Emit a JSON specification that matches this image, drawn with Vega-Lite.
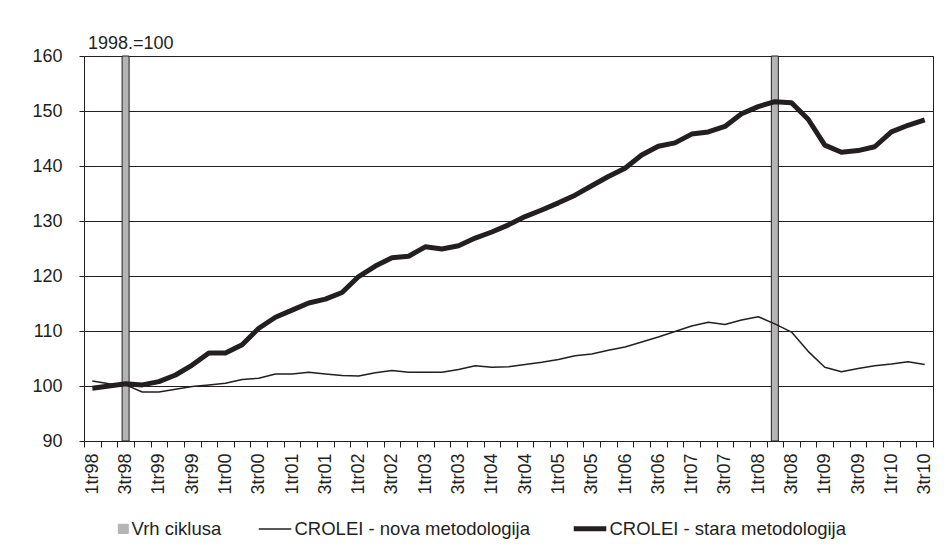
{
  "$schema": "https://vega.github.io/schema/vega-lite/v6.json",
  "width": 849,
  "height": 385,
  "autosize": {"type": "none"},
  "padding": {"left": 84, "top": 56, "right": 13, "bottom": 115},
  "background": "white",
  "title": {"text": "1998.=100", "anchor": "start", "frame": "group", "dx": 4, "offset": -6, "fontSize": 18, "fontWeight": "normal", "font": "Liberation Sans", "color": "#231f20"},
  "data": {"values": [
    {"q": "3tr98", "series": "Vrh ciklusa", "v": 160},
    {"q": "2tr08", "series": "Vrh ciklusa", "v": 160},
    {"q": "1tr98", "series": "CROLEI - nova metodologija", "v": 100.9},
    {"q": "2tr98", "series": "CROLEI - nova metodologija", "v": 100.4},
    {"q": "3tr98", "series": "CROLEI - nova metodologija", "v": 100.2},
    {"q": "4tr98", "series": "CROLEI - nova metodologija", "v": 98.9},
    {"q": "1tr99", "series": "CROLEI - nova metodologija", "v": 98.9},
    {"q": "2tr99", "series": "CROLEI - nova metodologija", "v": 99.4},
    {"q": "3tr99", "series": "CROLEI - nova metodologija", "v": 99.9},
    {"q": "4tr99", "series": "CROLEI - nova metodologija", "v": 100.2},
    {"q": "1tr00", "series": "CROLEI - nova metodologija", "v": 100.5},
    {"q": "2tr00", "series": "CROLEI - nova metodologija", "v": 101.2},
    {"q": "3tr00", "series": "CROLEI - nova metodologija", "v": 101.4},
    {"q": "4tr00", "series": "CROLEI - nova metodologija", "v": 102.2},
    {"q": "1tr01", "series": "CROLEI - nova metodologija", "v": 102.2},
    {"q": "2tr01", "series": "CROLEI - nova metodologija", "v": 102.5},
    {"q": "3tr01", "series": "CROLEI - nova metodologija", "v": 102.2},
    {"q": "4tr01", "series": "CROLEI - nova metodologija", "v": 101.9},
    {"q": "1tr02", "series": "CROLEI - nova metodologija", "v": 101.8},
    {"q": "2tr02", "series": "CROLEI - nova metodologija", "v": 102.4},
    {"q": "3tr02", "series": "CROLEI - nova metodologija", "v": 102.8},
    {"q": "4tr02", "series": "CROLEI - nova metodologija", "v": 102.5},
    {"q": "1tr03", "series": "CROLEI - nova metodologija", "v": 102.5},
    {"q": "2tr03", "series": "CROLEI - nova metodologija", "v": 102.5},
    {"q": "3tr03", "series": "CROLEI - nova metodologija", "v": 103.0},
    {"q": "4tr03", "series": "CROLEI - nova metodologija", "v": 103.7},
    {"q": "1tr04", "series": "CROLEI - nova metodologija", "v": 103.4},
    {"q": "2tr04", "series": "CROLEI - nova metodologija", "v": 103.5},
    {"q": "3tr04", "series": "CROLEI - nova metodologija", "v": 103.9},
    {"q": "4tr04", "series": "CROLEI - nova metodologija", "v": 104.3},
    {"q": "1tr05", "series": "CROLEI - nova metodologija", "v": 104.8},
    {"q": "2tr05", "series": "CROLEI - nova metodologija", "v": 105.5},
    {"q": "3tr05", "series": "CROLEI - nova metodologija", "v": 105.8},
    {"q": "4tr05", "series": "CROLEI - nova metodologija", "v": 106.5},
    {"q": "1tr06", "series": "CROLEI - nova metodologija", "v": 107.1},
    {"q": "2tr06", "series": "CROLEI - nova metodologija", "v": 108.0},
    {"q": "3tr06", "series": "CROLEI - nova metodologija", "v": 108.9},
    {"q": "4tr06", "series": "CROLEI - nova metodologija", "v": 109.9},
    {"q": "1tr07", "series": "CROLEI - nova metodologija", "v": 110.9},
    {"q": "2tr07", "series": "CROLEI - nova metodologija", "v": 111.6},
    {"q": "3tr07", "series": "CROLEI - nova metodologija", "v": 111.2},
    {"q": "4tr07", "series": "CROLEI - nova metodologija", "v": 112.0},
    {"q": "1tr08", "series": "CROLEI - nova metodologija", "v": 112.6},
    {"q": "2tr08", "series": "CROLEI - nova metodologija", "v": 111.3},
    {"q": "3tr08", "series": "CROLEI - nova metodologija", "v": 109.8},
    {"q": "4tr08", "series": "CROLEI - nova metodologija", "v": 106.3},
    {"q": "1tr09", "series": "CROLEI - nova metodologija", "v": 103.4},
    {"q": "2tr09", "series": "CROLEI - nova metodologija", "v": 102.6},
    {"q": "3tr09", "series": "CROLEI - nova metodologija", "v": 103.2},
    {"q": "4tr09", "series": "CROLEI - nova metodologija", "v": 103.7},
    {"q": "1tr10", "series": "CROLEI - nova metodologija", "v": 104.0},
    {"q": "2tr10", "series": "CROLEI - nova metodologija", "v": 104.4},
    {"q": "3tr10", "series": "CROLEI - nova metodologija", "v": 103.9},
    {"q": "1tr98", "series": "CROLEI - stara metodologija", "v": 99.6},
    {"q": "2tr98", "series": "CROLEI - stara metodologija", "v": 100.0},
    {"q": "3tr98", "series": "CROLEI - stara metodologija", "v": 100.4},
    {"q": "4tr98", "series": "CROLEI - stara metodologija", "v": 100.2},
    {"q": "1tr99", "series": "CROLEI - stara metodologija", "v": 100.8},
    {"q": "2tr99", "series": "CROLEI - stara metodologija", "v": 102.0},
    {"q": "3tr99", "series": "CROLEI - stara metodologija", "v": 103.8},
    {"q": "4tr99", "series": "CROLEI - stara metodologija", "v": 106.0},
    {"q": "1tr00", "series": "CROLEI - stara metodologija", "v": 106.0},
    {"q": "2tr00", "series": "CROLEI - stara metodologija", "v": 107.5},
    {"q": "3tr00", "series": "CROLEI - stara metodologija", "v": 110.5},
    {"q": "4tr00", "series": "CROLEI - stara metodologija", "v": 112.5},
    {"q": "1tr01", "series": "CROLEI - stara metodologija", "v": 113.8},
    {"q": "2tr01", "series": "CROLEI - stara metodologija", "v": 115.1},
    {"q": "3tr01", "series": "CROLEI - stara metodologija", "v": 115.8},
    {"q": "4tr01", "series": "CROLEI - stara metodologija", "v": 117.0},
    {"q": "1tr02", "series": "CROLEI - stara metodologija", "v": 119.9},
    {"q": "2tr02", "series": "CROLEI - stara metodologija", "v": 121.8},
    {"q": "3tr02", "series": "CROLEI - stara metodologija", "v": 123.3},
    {"q": "4tr02", "series": "CROLEI - stara metodologija", "v": 123.6},
    {"q": "1tr03", "series": "CROLEI - stara metodologija", "v": 125.3},
    {"q": "2tr03", "series": "CROLEI - stara metodologija", "v": 124.9},
    {"q": "3tr03", "series": "CROLEI - stara metodologija", "v": 125.5},
    {"q": "4tr03", "series": "CROLEI - stara metodologija", "v": 126.9},
    {"q": "1tr04", "series": "CROLEI - stara metodologija", "v": 128.0},
    {"q": "2tr04", "series": "CROLEI - stara metodologija", "v": 129.3},
    {"q": "3tr04", "series": "CROLEI - stara metodologija", "v": 130.8},
    {"q": "4tr04", "series": "CROLEI - stara metodologija", "v": 132.0},
    {"q": "1tr05", "series": "CROLEI - stara metodologija", "v": 133.3},
    {"q": "2tr05", "series": "CROLEI - stara metodologija", "v": 134.7},
    {"q": "3tr05", "series": "CROLEI - stara metodologija", "v": 136.4},
    {"q": "4tr05", "series": "CROLEI - stara metodologija", "v": 138.1},
    {"q": "1tr06", "series": "CROLEI - stara metodologija", "v": 139.6},
    {"q": "2tr06", "series": "CROLEI - stara metodologija", "v": 142.0},
    {"q": "3tr06", "series": "CROLEI - stara metodologija", "v": 143.6},
    {"q": "4tr06", "series": "CROLEI - stara metodologija", "v": 144.2},
    {"q": "1tr07", "series": "CROLEI - stara metodologija", "v": 145.8},
    {"q": "2tr07", "series": "CROLEI - stara metodologija", "v": 146.2},
    {"q": "3tr07", "series": "CROLEI - stara metodologija", "v": 147.2},
    {"q": "4tr07", "series": "CROLEI - stara metodologija", "v": 149.5},
    {"q": "1tr08", "series": "CROLEI - stara metodologija", "v": 150.8},
    {"q": "2tr08", "series": "CROLEI - stara metodologija", "v": 151.7},
    {"q": "3tr08", "series": "CROLEI - stara metodologija", "v": 151.5},
    {"q": "4tr08", "series": "CROLEI - stara metodologija", "v": 148.5},
    {"q": "1tr09", "series": "CROLEI - stara metodologija", "v": 143.8},
    {"q": "2tr09", "series": "CROLEI - stara metodologija", "v": 142.5},
    {"q": "3tr09", "series": "CROLEI - stara metodologija", "v": 142.8},
    {"q": "4tr09", "series": "CROLEI - stara metodologija", "v": 143.5},
    {"q": "1tr10", "series": "CROLEI - stara metodologija", "v": 146.2},
    {"q": "2tr10", "series": "CROLEI - stara metodologija", "v": 147.4},
    {"q": "3tr10", "series": "CROLEI - stara metodologija", "v": 148.4}
  ]},
  "encoding": {
    "x": {
      "field": "q", "type": "nominal", "sort": null, "title": null,
      "scale": {
        "type": "band", "paddingInner": 0, "paddingOuter": 0,
        "domain": ["1tr98","2tr98","3tr98","4tr98","1tr99","2tr99","3tr99","4tr99","1tr00","2tr00","3tr00","4tr00","1tr01","2tr01","3tr01","4tr01","1tr02","2tr02","3tr02","4tr02","1tr03","2tr03","3tr03","4tr03","1tr04","2tr04","3tr04","4tr04","1tr05","2tr05","3tr05","4tr05","1tr06","2tr06","3tr06","4tr06","1tr07","2tr07","3tr07","4tr07","1tr08","2tr08","3tr08","4tr08","1tr09","2tr09","3tr09","4tr09","1tr10","2tr10","3tr10"]
      },
      "axis": {
        "tickBand": "extent", "tickSize": 6, "labelAngle": 270, "labelPadding": 6,
        "labelExpr": "indexof(datum.label, '2tr') === 0 || indexof(datum.label, '4tr') === 0 ? '' : datum.label",
        "grid": false, "labelOverlap": false
      }
    },
    "y": {
      "field": "v", "type": "quantitative", "title": null,
      "scale": {"domain": [90, 160], "nice": false, "zero": false},
      "axis": {"values": [90, 100, 110, 120, 130, 140, 150, 160], "grid": true, "tickSize": 5, "labelPadding": 17}
    },
    "color": {
      "field": "series", "type": "nominal", "title": null,
      "scale": {"domain": ["Vrh ciklusa", "CROLEI - nova metodologija", "CROLEI - stara metodologija"], "range": ["#b4b4b4", "#231f20", "#231f20"]},
      "legend": {
        "orient": "none", "legendX": 21, "legendY": 463, "direction": "horizontal", "columns": 3,
        "symbolSize": 1369, "labelOffset": 8, "columnPadding": 33, "labelLimit": 500,
        "labelFontSize": 18.5, "labelFont": "Liberation Sans", "labelColor": "#231f20",
        "encode": {
          "symbols": {
            "update": {
              "shape": {"signal": "datum.value === 'Vrh ciklusa' ? 'M0.22,-0.25H0.76V0.25H0.22Z' : 'M-1,0H0.76'"},
              "strokeWidth": {"signal": "datum.value === 'CROLEI - stara metodologija' ? 5 : (datum.value === 'Vrh ciklusa' ? 1 : 1.5)"},
              "stroke": {"value": "#231f20"},
              "fill": {"signal": "datum.value === 'Vrh ciklusa' ? '#b4b4b4' : 'transparent'"},
              "opacity": {"value": 1}
            }
          }
        }
      }
    }
  },
  "layer": [
    {
      "transform": [{"filter": "datum.series === 'Vrh ciklusa'"}],
      "mark": {"type": "bar", "width": 7, "stroke": "#231f20", "strokeWidth": 1},
      "encoding": {"y2": {"datum": 90}}
    },
    {
      "transform": [{"filter": "datum.series !== 'Vrh ciklusa'"}],
      "mark": {"type": "line", "strokeJoin": "round"},
      "encoding": {
        "strokeWidth": {
          "field": "series", "type": "nominal", "legend": null,
          "scale": {"domain": ["CROLEI - nova metodologija", "CROLEI - stara metodologija"], "range": [1.5, 5]}
        }
      }
    }
  ],
  "config": {
    "view": {"stroke": "#231f20", "strokeWidth": 1},
    "axis": {
      "labelFont": "Liberation Sans", "labelFontSize": 18, "labelColor": "#231f20",
      "domainColor": "#231f20", "tickColor": "#231f20", "gridColor": "#231f20", "gridOpacity": 1,
      "domainWidth": 1, "tickWidth": 1, "gridWidth": 1
    }
  }
}
